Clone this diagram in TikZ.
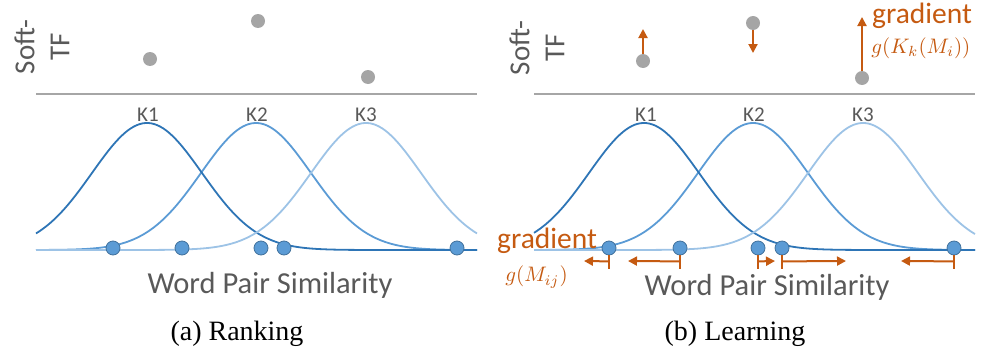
\documentclass[tikz,border=0pt]{standalone}
\usepackage{fontspec}
\setmainfont{Liberation Serif}
\newfontfamily\calib{Carlito}
\usetikzlibrary{arrows.meta}
\definecolor{txtgray}{HTML}{595959}
\definecolor{axgray}{HTML}{A6A6A6}
\definecolor{dotgray}{HTML}{A5A5A5}
\definecolor{kone}{HTML}{2E75B6}
\definecolor{ktwo}{HTML}{5B9BD5}
\definecolor{kthree}{HTML}{9DC3E6}
\definecolor{orng}{HTML}{C55A11}
\definecolor{dotblue}{HTML}{5B9BD5}
\definecolor{dotedge}{HTML}{41719C}
\tikzset{
  axisline/.style={draw=axgray, line width=1.3pt},
  curve/.style={line width=1.8pt, smooth},
  gdot/.style={circle, fill=dotgray, inner sep=0pt, minimum size=14pt},
  bdot/.style={circle, fill=dotblue, draw=dotedge, line width=0.8pt, inner sep=0pt, minimum size=14pt},
  softtf/.style={rotate=90, align=center, text=txtgray, font=\calib\fontsize{29}{35}\selectfont},
  klabel/.style={anchor=base, text=txtgray, font=\calib\fontsize{21}{24}\selectfont},
  xlabel/.style={anchor=base, text=txtgray, font=\calib\fontsize{30.5}{36}\selectfont},
  caption/.style={anchor=base, font=\fontsize{28}{33}\selectfont},
  gradtext/.style={anchor=base west, text=orng, font=\calib\fontsize{29.5}{35}\selectfont, inner sep=0pt},
  gradmath/.style={anchor=west, text=orng, scale=2.1, inner sep=0pt},
  garrow/.style={draw=orng, line width=2pt, -{Triangle[length=9pt,width=9pt]}},
  gtick/.style={draw=orng, line width=1.6pt},
}
\begin{document}
\begin{tikzpicture}[x=1pt,y=-1pt]
\useasboundingbox (0,0) rectangle (981,356);

% ================= Panel (a) =================
\node[softtf] (sa) at (42,47) {Soft-\\TF};
\draw[axisline] (36,94) -- (477,94);
\node[gdot] (ga1) at (150,59) {};
\node[gdot] (ga2) at (258,21) {};
\node[gdot] (ga3) at (368,77) {};
\node[klabel] (ka1) at (148,121) {K1};
\node[klabel] (ka2) at (257,121) {K2};
\node[klabel] (ka3) at (366,121) {K3};
\draw[curve, ktwo] plot[domain=36:477, samples=150] (\x, {250-127*exp(-0.5*((\x-256)/55)^2)});
\draw[curve, kone] plot[domain=36:477, samples=150] (\x, {250-127*exp(-0.5*((\x-147)/55)^2)});
\draw[curve, kthree] plot[domain=36:477, samples=150] (\x, {250-127*exp(-0.5*((\x-366)/55)^2)});
\node[bdot] (da1) at (113,248) {};
\node[bdot] (da2) at (182,248) {};
\node[bdot] (da3) at (261,248) {};
\node[bdot] (da4) at (284,248) {};
\node[bdot] (da5) at (457,248) {};
\node[xlabel] (wa) at (270,293) {Word Pair Similarity};
\node[caption] (capa) at (237,340) {(a) Ranking};

% ================= Panel (b) =================
\node[softtf] (sb) at (537,48) {Soft-\\TF};
\draw[axisline] (534,94) -- (975,94);
\node[gdot] (gb1) at (643,61) {};
\node[gdot] (gb2) at (753,23) {};
\node[gdot] (gb3) at (862,78) {};
\node[klabel] (kb1) at (646,121) {K1};
\node[klabel] (kb2) at (754,121) {K2};
\node[klabel] (kb3) at (863,121) {K3};
\draw[curve, ktwo] plot[domain=534:975, samples=150] (\x, {250-127*exp(-0.5*((\x-753)/55)^2)});
\draw[curve, kone] plot[domain=534:975, samples=150] (\x, {250-127*exp(-0.5*((\x-644)/55)^2)});
\draw[curve, kthree] plot[domain=534:975, samples=150] (\x, {250-127*exp(-0.5*((\x-863)/55)^2)});
\node[bdot] (db1) at (609,248) {};
\node[bdot] (db2) at (680,248) {};
\node[bdot] (db3) at (758,248) {};
\node[bdot] (db4) at (782,248) {};
\node[bdot] (db5) at (954,248) {};
\node[xlabel] (wb) at (767,295) {Word Pair Similarity};
\node[caption] (capb) at (735,340) {(b) Learning};

% gradient on soft-TF
\coordinate (ub1) at (643,29);
\coordinate (ub2) at (753,53);
\coordinate (ub3) at (862,17);
\draw[garrow] (gb1.north) -- (ub1);
\draw[garrow] (gb2.south) -- (ub2);
\draw[garrow] (gb3.north) -- (ub3);
\node[gradtext] (gt) at (872,23) {gradient};
\node[gradmath] (gm) at (871,48) {$g(K_k(M_i))$};

% gradient on similarities
\coordinate (e1) at (584,261);
\coordinate (e2) at (628,261);
\coordinate (e3) at (775,261);
\coordinate (e4) at (846,261);
\coordinate (e5) at (901,261);
\foreach \i in {1,...,5}{
  \draw[gtick] (db\i.south) -- ++(0,14);
  \draw[garrow] ([yshift=-6pt]db\i.south) -- (e\i);
}
\node[gradtext] (gt2) at (497,248) {gradient};
\node[gradmath] (gm2) at (505,277) {$g(M_{ij})$};
\end{tikzpicture}
\end{document}
